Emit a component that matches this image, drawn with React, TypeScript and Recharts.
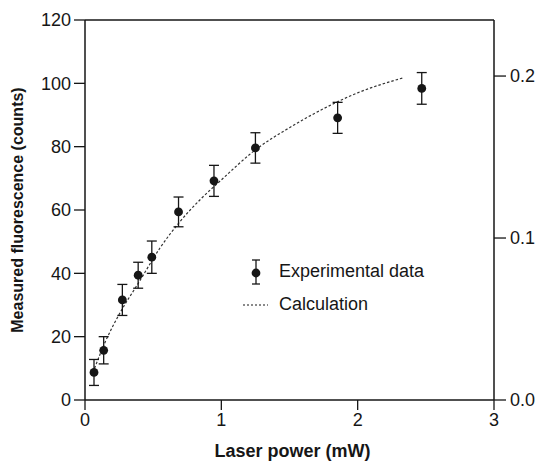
import {
  ComposedChart,
  ErrorBar,
  Legend,
  Line,
  ReferenceLine,
  Scatter,
  XAxis,
  YAxis,
} from "recharts";

const FONT = '"Liberation Sans", Arial, Helvetica, sans-serif';
const INK = "#161616";

// measured points: laser power (mW), counts, +/- error
const powerMw = [0.066, 0.137, 0.274, 0.39, 0.49, 0.686, 0.946, 1.25, 1.853, 2.47];
const countsMeasured = [8.7, 15.7, 31.6, 39.4, 45.1, 59.4, 69.2, 79.6, 89.1, 98.4];
const countsError = [4.1, 4.3, 4.9, 4.1, 5.1, 4.7, 4.9, 4.8, 4.9, 5.0];

// calculated curve
const calcPower = [0.07, 0.15, 0.25, 0.4, 0.55, 0.7, 0.85, 1.0, 1.25, 1.5, 1.75, 2.0, 2.33];
const calcCounts = [10, 18.5, 27, 37.5, 48, 56.5, 63.5, 69.5, 79, 86, 92, 97, 101.7];

const xTicks = [0, 1, 2, 3];
const leftTicks = [0, 20, 40, 60, 80, 100, 120];
const rightTicks = [0, 0.1, 0.2];

const measured = powerMw.map((x, i) => ({ x, y: countsMeasured[i], err: countsError[i] }));
const calculation = calcPower.map((x, i) => ({ x, y: calcCounts[i] }));

const tickStyle = { fill: INK, fontSize: 18, fontFamily: FONT };
const axisLine = { stroke: INK, strokeWidth: 1.5 };

function YTitle(props: any) {
  const vb = props.viewBox || { x: 0, y: 20, height: 380 };
  const cx = vb.x + 17;
  const cy = vb.y + vb.height / 2;
  return (
    <text
      x={cx}
      y={cy}
      transform={`rotate(-90 ${cx} ${cy})`}
      textAnchor="middle"
      dominantBaseline="central"
      fontFamily={FONT}
      fontWeight="bold"
      fontSize={16}
      fill={INK}
    >
      Measured fluorescence (counts)
    </text>
  );
}

function XTitle(props: any) {
  const vb = props.viewBox || { x: 85, y: 400, width: 409 };
  return (
    <text
      x={vb.x + vb.width / 2 + 3}
      y={457}
      textAnchor="middle"
      fontFamily={FONT}
      fontWeight="bold"
      fontSize={18}
      fill={INK}
    >
      Laser power (mW)
    </text>
  );
}

function Dot(props: any) {
  return <circle cx={props.cx} cy={props.cy} r={4.4} fill={INK} />;
}

function LegendBox() {
  const row = { display: "flex", alignItems: "center", height: 33 };
  const label = { marginLeft: 5, fontSize: 18, fontFamily: FONT, color: INK };
  return (
    <div>
      <div style={row}>
        <svg width={36} height={30}>
          <line x1={18} y1={3} x2={18} y2={27} stroke={INK} strokeWidth={1.3} />
          <line x1={14} y1={3} x2={22} y2={3} stroke={INK} strokeWidth={1.3} />
          <line x1={14} y1={27} x2={22} y2={27} stroke={INK} strokeWidth={1.3} />
          <circle cx={18} cy={16} r={4.4} fill={INK} />
        </svg>
        <span style={label}>Experimental data</span>
      </div>
      <div style={row}>
        <svg width={36} height={30}>
          <line x1={5} y1={15} x2={30} y2={15} stroke={INK} strokeWidth={1.2} strokeDasharray="2 2" />
        </svg>
        <span style={label}>Calculation</span>
      </div>
    </div>
  );
}

export default function App() {
  return (
    <div style={{ position: "absolute", left: 0, top: 0, width: 536, height: 464, background: "#fff" }}>
      <ComposedChart width={536} height={464} margin={{ top: 20, right: 0, bottom: 0, left: 0 }}>
        <XAxis
          type="number"
          dataKey="x"
          domain={[0, 3]}
          ticks={xTicks}
          height={64}
          tick={tickStyle}
          tickSize={10}
          tickMargin={3}
          axisLine={axisLine}
          tickLine={{ stroke: INK, strokeWidth: 1.3 }}
          label={<XTitle />}
        />
        <YAxis
          yAxisId="left"
          type="number"
          domain={[0, 120]}
          ticks={leftTicks}
          width={85}
          tick={tickStyle}
          tickSize={11}
          tickMargin={3}
          axisLine={axisLine}
          tickLine={{ stroke: INK, strokeWidth: 1.3 }}
          label={<YTitle />}
        />
        <YAxis
          yAxisId="right"
          orientation="right"
          type="number"
          domain={[0, 0.2346]}
          allowDataOverflow
          ticks={rightTicks}
          width={42}
          tick={tickStyle}
          tickSize={12}
          tickMargin={4}
          tickFormatter={(v: number) => v.toFixed(1)}
          axisLine={axisLine}
          tickLine={{ stroke: INK, strokeWidth: 1.3 }}
        />
        <ReferenceLine yAxisId="left" y={120} stroke={INK} strokeWidth={1.5} />
        <Line
          yAxisId="left"
          data={calculation}
          dataKey="y"
          type="monotone"
          stroke="#333"
          strokeWidth={1.2}
          strokeDasharray="2.5 2"
          dot={false}
          activeDot={false}
          isAnimationActive={false}
          legendType="none"
        />
        <Scatter
          yAxisId="left"
          data={measured}
          dataKey="y"
          shape={<Dot />}
          isAnimationActive={false}
        >
          <ErrorBar dataKey="err" direction="y" width={5} stroke={INK} strokeWidth={1.3} />
        </Scatter>
        <Legend
          layout="vertical"
          align="center"
          verticalAlign="middle"
          content={() => <LegendBox />}
          wrapperStyle={{ left: 238, top: 255, width: 220 }}
        />
      </ComposedChart>
    </div>
  );
}
